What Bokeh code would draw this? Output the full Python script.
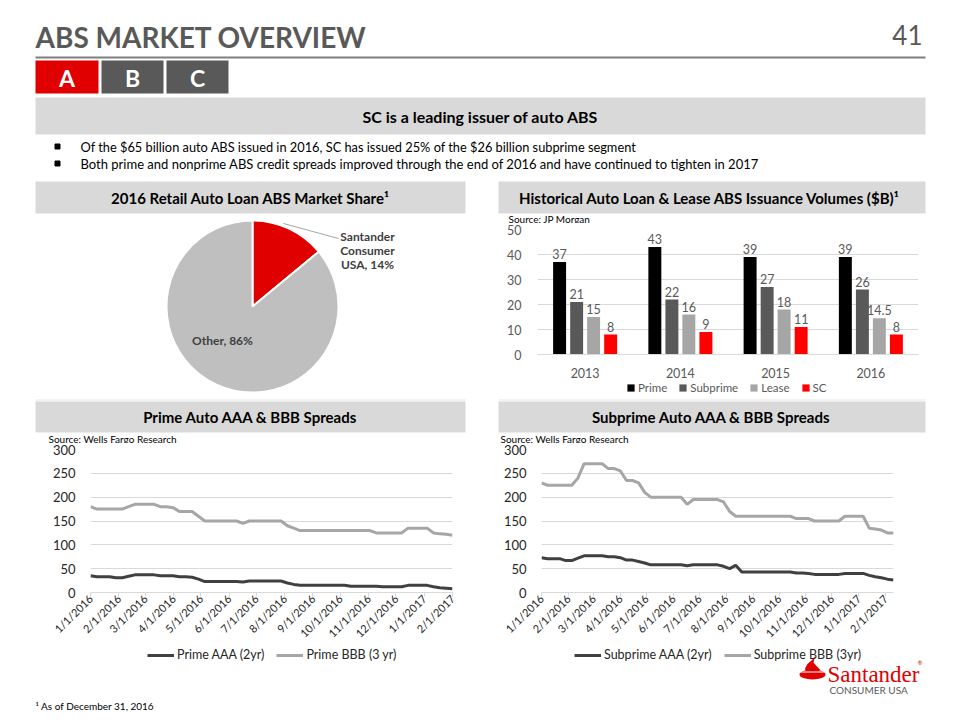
import numpy as np
import pandas as pd
from bokeh.plotting import figure
from bokeh.layouts import column, row
from bokeh.models import (Range1d, FactorRange, FixedTicker, Legend, LegendItem,
                          ColumnDataSource, DatetimeTickFormatter)
from bokeh.transform import dodge
from bokeh.core.properties import value
from bokeh.embed import file_html
from bokeh.resources import INLINE

FONT = "Lato"
RED = "#e00000"
DARK = "#595959"
BAND = "#d9d9d9"
INK = "#262626"

# ---------------- data ----------------
pie_names = ["Santander\nConsumer\nUSA", "Other"]
pie_shares = [14, 86]
pie_colors = [RED, "#bfbfbf"]

years = ["2013", "2014", "2015", "2016"]
vol_prime = [37, 43, 39, 39]
vol_subprime = [21, 22, 27, 26]
vol_lease = [15, 16, 18, 14.5]
vol_sc = [8, 9, 11, 8]
vol_names = ["Prime", "Subprime", "Lease", "SC"]
vol_colors = ["#000000", "#595959", "#a6a6a6", "#ff0000"]
vol_ticks = [0, 10, 20, 30, 40, 50]

month_ticks = ["2016-01-01", "2016-02-01", "2016-03-01", "2016-04-01", "2016-05-01",
               "2016-06-01", "2016-07-01", "2016-08-01", "2016-09-01", "2016-10-01",
               "2016-11-01", "2016-12-01", "2017-01-01", "2017-02-01"]
month_labels = ["1/1/2016", "2/1/2016", "3/1/2016", "4/1/2016", "5/1/2016", "6/1/2016",
                "7/1/2016", "8/1/2016", "9/1/2016", "10/1/2016", "11/1/2016", "12/1/2016",
                "1/1/2017", "2/1/2017"]
spread_ticks = [0, 50, 100, 150, 200, 250, 300]

prime_span = ("2016-01-01", "2017-02-01")
prime_aaa = [35, 33, 33, 33, 31, 31, 34, 37, 37, 37, 37, 35, 35, 35, 33, 33, 32, 28, 23, 23,
             23, 23, 23, 23, 22, 24, 24, 24, 24, 24, 24, 20, 17, 15, 15, 15, 15, 15, 15, 15,
             15, 13, 13, 13, 13, 13, 12, 12, 12, 12, 15, 15, 15, 15, 12, 10, 9, 8]
prime_bbb = [180, 175, 175, 175, 175, 175, 180, 185, 185, 185, 185, 180, 180, 178, 170, 170,
             170, 160, 150, 150, 150, 150, 150, 150, 145, 150, 150, 150, 150, 150, 150, 140,
             135, 130, 130, 130, 130, 130, 130, 130, 130, 130, 130, 130, 130, 125, 125, 125,
             125, 125, 135, 135, 135, 135, 125, 123, 122, 120]
prime_names = ["Prime AAA (2yr)", "Prime BBB (3 yr)"]

sub_span = ("2016-01-01", "2017-02-10")
sub_aaa = [73, 71, 71, 71, 67, 67, 72, 77, 77, 77, 77, 75, 75, 73, 68, 68, 65, 62, 58, 58,
           58, 58, 58, 58, 56, 58, 58, 58, 58, 58, 55, 50, 57, 43, 43, 43, 43, 43, 43, 43,
           43, 43, 41, 41, 40, 38, 38, 38, 38, 38, 40, 40, 40, 40, 36, 33, 31, 28, 26]
sub_bbb = [230, 225, 225, 225, 225, 225, 240, 270, 270, 270, 270, 260, 260, 255, 235, 235,
           230, 210, 200, 200, 200, 200, 200, 200, 185, 195, 195, 195, 195, 195, 190, 170,
           160, 160, 160, 160, 160, 160, 160, 160, 160, 160, 155, 155, 155, 150, 150, 150,
           150, 150, 160, 160, 160, 160, 135, 133, 131, 125, 125]
sub_names = ["Subprime AAA (2yr)", "Subprime BBB (3yr)"]
line_colors = ["#404040", "#a6a6a6"]


def ms(s):
    return pd.Timestamp(s).value / 1e6


def no_align(p):
    try:
        p.frame_align = False
    except AttributeError:
        pass
    return p


# canvases use page pixel coordinates; y is stored negated so the range is not inverted
def canvas(x0, y0, w, h):
    p = figure(width=w, height=h, x_range=Range1d(x0, x0 + w),
               y_range=Range1d(-(y0 + h), -y0), output_backend="svg",
               toolbar_location=None, min_border=0, x_axis_location=None,
               y_axis_location=None, outline_line_color=None)
    p.grid.visible = False
    return no_align(p)


def txt(p, x, y, s, size, color="#000000", bold=False, align="left", font=FONT,
        baseline="middle"):
    p.text(x=[x], y=[-y], text=[s], text_font=value(font), text_font_size=f"{size}px",
           text_color=color, text_font_style="bold" if bold else "normal",
           text_align=align, text_baseline=baseline)


def box(p, l, r, t, b, color):
    p.quad(left=l, right=r, top=[-v for v in t], bottom=[-v for v in b],
           fill_color=color, line_color=None)


def hline(p, x0, x1, y, color, width):
    p.segment(x0=[x0], y0=[-y], x1=[x1], y1=[-y], line_color=color, line_width=width)


# ---------------- header ----------------
head = canvas(0, 0, 960, 175)
txt(head, 35, 36, "ABS MARKET OVERVIEW", 28, DARK, bold=True)
txt(head, 922, 34, "41", 26, DARK, align="right")
hline(head, 35, 925, 57, "#7f7f7f", 2)
box(head, [35, 101, 166], [98, 163, 228], [60, 60, 60], [93, 93, 93], [RED, DARK, DARK])
for cx, letter in zip([66.5, 132, 197], ["A", "B", "C"]):
    txt(head, cx, 77, letter, 23, "#ffffff", bold=True, align="center")
box(head, [35], [925], [97], [134], BAND)
txt(head, 480, 116, "SC is a leading issuer of auto ABS", 16, "#000000", bold=True,
    align="center")
head.scatter(x=[57, 57], y=[-146, -163], marker="square", size=5, color="#000000")
txt(head, 80, 146, "Of the $65 billion auto ABS issued in 2016, SC has issued 25% of the "
    "$26 billion subprime segment", 12.8)
txt(head, 80, 163, "Both prime and nonprime ABS credit spreads improved through the end of "
    "2016 and have continued to tighten in 2017", 13)

# ---------------- left middle: pie ----------------
left = canvas(0, 175, 480, 268)
box(left, [35], [465], [181], [213], BAND)
txt(left, 250, 197, "2016 Retail Auto Loan ABS Market Share\u00b9", 15, bold=True,
    align="center")
cum = np.cumsum([0] + pie_shares) / sum(pie_shares) * 2 * np.pi
pie_src = ColumnDataSource(dict(
    x=[252] * len(pie_shares), y=[-306] * len(pie_shares),
    start=list(np.pi / 2 - cum[:-1]), end=list(np.pi / 2 - cum[1:]), color=pie_colors))
left.wedge(x="x", y="y", radius=86, start_angle="start", end_angle="end",
           direction="clock", fill_color="color", line_color="white", line_width=2,
           source=pie_src)
left.segment(x0=[283], y0=[-223], x1=[338], y1=[-238], line_color="#a6a6a6", line_width=1)
pie_text = [f"{n}, {s}%" for n, s in zip(pie_names, pie_shares)]
left.text(x=[367, 222], y=[-250, -340], text=pie_text, text_font=value(FONT),
          text_font_size="12px", text_font_style="bold", text_color="#404040",
          text_align="center", text_baseline="middle", text_line_height=0.95)
hline(left, 35, 465, 399.5, "#e6e6e6", 1)
box(left, [35], [465], [401], [432], BAND)
txt(left, 250, 416.5, "Prime Auto AAA & BBB Spreads", 15, bold=True, align="center")
txt(left, 48, 438, "Source: Wells Fargo Research", 10)

# ---------------- right middle: bar chart ----------------
rtop = canvas(480, 175, 480, 48)
box(rtop, [498], [925], [181], [213], BAND)
txt(rtop, 711, 197, "Historical Auto Loan &  Lease ABS Issuance Volumes ($B)\u00b9", 15,
    bold=True, align="center")
txt(rtop, 508, 218, "Source: JP Morgan", 10)

bar = figure(width=480, height=157, x_range=FactorRange(factors=years),
             y_range=Range1d(0, 50), output_backend="svg", toolbar_location=None,
             min_border_left=57, min_border_right=42, min_border_top=6,
             min_border_bottom=22, outline_line_color=None)
no_align(bar)
bar_src = ColumnDataSource(dict(year=years, Prime=vol_prime, Subprime=vol_subprime,
                                Lease=vol_lease, SC=vol_sc))
for nm in vol_names:
    bar_src.data[nm + "_lbl"] = [f"{v:g}" for v in bar_src.data[nm]]
offsets = [-0.268, -0.089, 0.089, 0.268]
for nm, col, off in zip(vol_names, vol_colors, offsets):
    bar.vbar(x=dodge("year", off, range=bar.x_range), top=nm, width=0.136,
             fill_color=col, line_color=None, source=bar_src)
    bar.text(x=dodge("year", off, range=bar.x_range), y=nm, text=nm + "_lbl",
             text_font=value(FONT), text_font_size="12.5px", text_color=DARK,
             text_align="center", text_baseline="bottom", y_offset=-3, source=bar_src)
bar.yaxis.ticker = FixedTicker(ticks=vol_ticks)
bar.ygrid.ticker = FixedTicker(ticks=vol_ticks)
bar.ygrid.grid_line_color = BAND
bar.xgrid.visible = False
bar.yaxis.axis_line_color = None
bar.yaxis.major_tick_line_color = None
bar.yaxis.minor_tick_line_color = None
bar.yaxis.major_label_standoff = 10
for ax in (bar.xaxis, bar.yaxis):
    ax.major_label_text_font = FONT
    ax.major_label_text_font_size = "12.5px"
    ax.major_label_text_color = DARK
bar.xaxis.axis_line_color = BAND
bar.xaxis.major_tick_line_color = None
bar.xaxis.major_label_standoff = 7

rbot = canvas(480, 380, 480, 63)
bar_items = []
for nm, col in zip(vol_names, vol_colors):
    r = rbot.vbar(x=[np.nan], top=[np.nan], width=1, fill_color=col, line_color=None)
    bar_items.append(LegendItem(label=nm, renderers=[r]))
rbot.add_layout(Legend(items=bar_items, orientation="horizontal", location=(146, 49),
                       label_text_font=FONT, label_text_font_size="11.5px",
                       label_text_color=DARK, glyph_width=9, glyph_height=9,
                       label_height=13, label_standoff=3, spacing=11, padding=0, margin=0,
                       border_line_color=None, background_fill_alpha=0))
hline(rbot, 498, 925, 399.5, "#e6e6e6", 1)
box(rbot, [498], [925], [401], [432], BAND)
txt(rbot, 711, 416.5, "Subprime Auto AAA & BBB Spreads", 15, bold=True, align="center")
txt(rbot, 500, 438, "Source: Wells Fargo Research", 10)


# ---------------- spread charts ----------------
def spread_chart(span, aaa, bbb, x_end, left_b, right_b, bottom_b):
    x = pd.date_range(span[0], span[1], periods=len(aaa))
    p = figure(width=480, height=204, x_axis_type="datetime",
               x_range=Range1d(ms(span[0]), ms(x_end)), y_range=Range1d(0, 300),
               output_backend="svg", toolbar_location=None,
               min_border_left=left_b, min_border_right=right_b, min_border_top=6,
               min_border_bottom=bottom_b, outline_line_color=None)
    no_align(p)
    p.line(x=x, y=aaa, line_color=line_colors[0], line_width=3)
    p.line(x=x, y=bbb, line_color=line_colors[1], line_width=3)
    tk = [ms(t) for t in month_ticks]
    p.xaxis.ticker = FixedTicker(ticks=tk)
    p.xaxis.formatter = DatetimeTickFormatter(days="%-m/%-d/%Y", months="%-m/%-d/%Y",
                                              years="%-m/%-d/%Y")
    p.xaxis.major_label_overrides = {t: lab for t, lab in zip(tk, month_labels)}
    p.xaxis.major_label_orientation = np.pi / 4
    p.xaxis.major_label_text_font = FONT
    p.xaxis.major_label_text_font_size = "11px"
    p.xaxis.major_label_text_color = INK
    p.xaxis.axis_line_color = BAND
    p.xaxis.major_tick_line_color = BAND
    p.xaxis.major_tick_out = 4
    p.xaxis.major_tick_in = 0
    p.xaxis.minor_tick_line_color = None
    p.xaxis.major_label_standoff = 0
    p.yaxis.ticker = FixedTicker(ticks=spread_ticks)
    p.yaxis.axis_line_color = None
    p.yaxis.major_tick_line_color = None
    p.yaxis.minor_tick_line_color = None
    p.yaxis.major_label_text_font = FONT
    p.yaxis.major_label_text_font_size = "13px"
    p.yaxis.major_label_text_color = INK
    p.yaxis.major_label_standoff = 9
    p.xgrid.visible = False
    p.ygrid.ticker = FixedTicker(ticks=spread_ticks)
    p.ygrid.grid_line_color = BAND
    return p


prime_c = spread_chart(prime_span, prime_aaa, prime_bbb, prime_span[1], 90, 28, 50)
sub_c = spread_chart(sub_span, sub_aaa, sub_bbb, sub_span[1], 61, 67, 50)

# ---------------- footer: legends, footnote, logo ----------------
foot = canvas(0, 647, 960, 73)
for names, x_left in ((prime_names, 147), (sub_names, 574)):
    its = []
    for nm, col in zip(names, line_colors):
        r = foot.line(x=[np.nan], y=[np.nan], line_color=col, line_width=3)
        its.append(LegendItem(label=nm, renderers=[r]))
    foot.add_layout(Legend(items=its, orientation="horizontal", location=(x_left, 58),
                           label_text_font=FONT, label_text_font_size="12.5px",
                           label_text_color=INK, glyph_width=27, glyph_height=12,
                           label_height=13, label_standoff=3, spacing=12, padding=0,
                           margin=0, border_line_color=None, background_fill_alpha=0))
txt(foot, 35, 705, "\u00b9 As of December 31, 2016", 10)
foot.ellipse(x=[812], y=[-674], width=[26], height=[10], fill_color=RED, line_color=None)
foot.patch(x=[806, 804.5, 807, 811, 814.5, 813, 816, 819.5, 818, 812],
           y=[-673, -668, -663.5, -660, -656, -662, -665.5, -669, -672, -674],
           fill_color=RED, line_color=None)
hline(foot, 799, 825, 671.5, "white", 1.2)
txt(foot, 827, 674, "Santander", 23, RED, font="Liberation Serif", baseline="alphabetic")
txt(foot, 917, 662, "\u00ae", 6, RED)
txt(foot, 829, 689, "CONSUMER USA", 10, DARK)

layout = column(head,
                row(left, column(rtop, bar, rbot)),
                row(prime_c, sub_c),
                foot)
open("out.html", "w").write(file_html(layout, INLINE))
